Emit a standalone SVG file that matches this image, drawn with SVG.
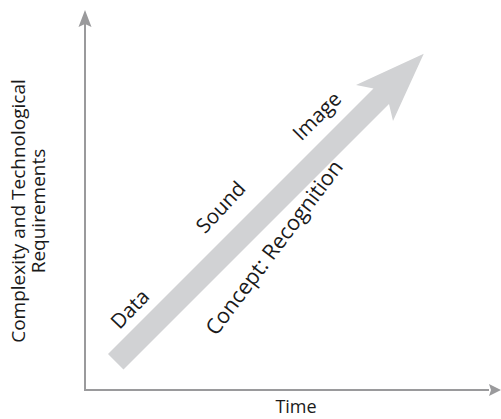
<svg xmlns="http://www.w3.org/2000/svg" width="501" height="419" viewBox="0 0 501 419">
<defs>
<style>
.lbl{font-family:"Open Sans","Noto Sans","Liberation Sans",sans-serif;fill:#1a1a1a}
.diag{font-size:20.5px}
.ylab{font-size:19px}
.xlab{font-size:18px}
.axis{stroke:#9a9a9c;stroke-width:2;fill:none}
.ah{fill:#9a9a9c}
</style>
</defs>
<rect width="501" height="419" fill="#ffffff"/>
<g id="connectors">
<line class="axis" x1="85" y1="391" x2="85" y2="24"/>
<line class="axis" x1="84" y1="390" x2="489" y2="390"/>
<path class="ah" d="M85,10 L91.5,27 L85,24 L78.5,27 Z"/>
<path class="ah" d="M501,390 L489,384 L491,390 L489,396 Z"/>
</g>
<g id="trend-arrow">
<path d="M108,354 L373.5,88.5 L356,85 L423.75,53.75 L393,121 L389,104 L123.5,369.5 Z" fill="#d1d2d4"/>
</g>
<g id="label-data"><text class="lbl diag" text-anchor="middle" transform="translate(135,314) rotate(-46)">Data</text></g>
<g id="label-sound"><text class="lbl diag" text-anchor="middle" transform="translate(226,212) rotate(-47)">Sound</text></g>
<g id="label-image"><text class="lbl diag" text-anchor="middle" transform="translate(322,121) rotate(-45)">Image</text></g>
<g id="label-concept"><text class="lbl diag" style="font-size:21.5px" text-anchor="middle" transform="translate(280,252) rotate(-53)">Concept: Recognition</text></g>
<g id="axis-y-label">
<text class="lbl ylab" text-anchor="middle" transform="translate(25,211) rotate(-90)">Complexity and Technological</text>
<text class="lbl ylab" text-anchor="middle" transform="translate(45,211) rotate(-90)">Requirements</text>
</g>
<g id="axis-x-label"><text class="lbl xlab" text-anchor="middle" x="296" y="413">Time</text></g>
</svg>
